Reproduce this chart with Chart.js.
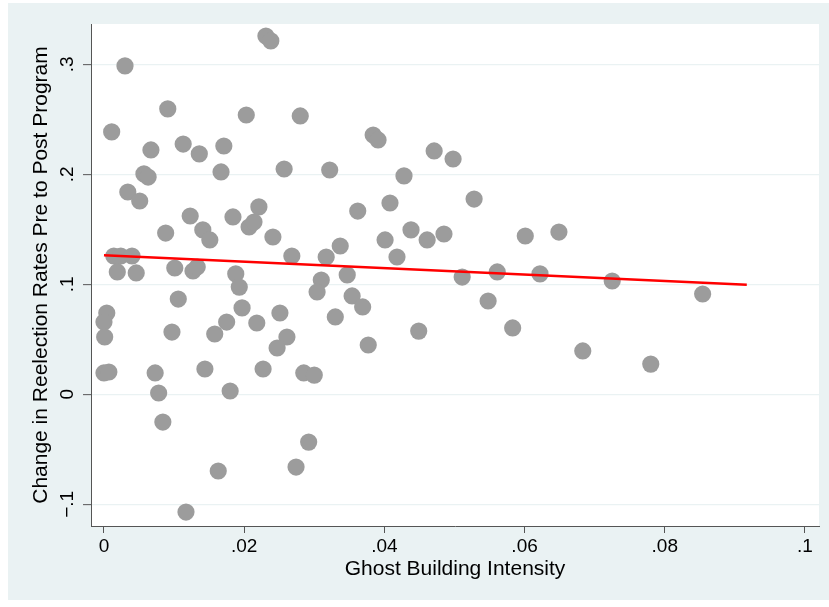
<!DOCTYPE html>
<html><head><meta charset="utf-8">
<script src="https://cdn.jsdelivr.net/npm/chart.js@4.4.1/dist/chart.umd.min.js"></script>
<style>
html,body{margin:0;padding:0;background:#fff;}
#bg{position:absolute;left:8px;top:3px;width:821px;height:597px;background:#EAF2F3;}
#wrap{position:absolute;left:0;top:0;width:829px;height:607px;}
</style></head><body>
<div id="bg"></div>
<div id="wrap"><canvas id="c" width="829" height="607"></canvas></div>
<script>
const intensity = [
 0.0231,0.0238,0.0030,0.0011,0.0091,0.0203,0.0280,0.0067,0.0113,0.0136,
 0.0171,0.0057,0.0063,0.0167,0.0257,0.0322,0.0034,0.0051,0.0123,0.0184,
 0.0221,0.0207,0.0214,0.0088,0.0141,0.0151,0.0241,0.0268,0.0317,0.0014,
 0.0024,0.0040,0.0019,0.0046,0.0101,0.0127,0.0133,0.0188,0.0193,0.0310,
 0.0304,0.0004,0.0000,0.0001,0.0106,0.0197,0.0251,0.0330,0.0175,0.0218,
 0.0097,0.0158,0.0261,0.0247,0.0000,0.0007,0.0073,0.0144,0.0227,0.0285,
 0.0300,0.0078,0.0180,0.0084,0.0292,0.0163,0.0274,0.0117,0.0384,0.0391,
 0.0471,0.0498,0.0428,0.0408,0.0528,0.0362,0.0401,0.0438,0.0461,0.0485,
 0.0601,0.0649,0.0337,0.0418,0.0347,0.0511,0.0561,0.0622,0.0354,0.0369,
 0.0548,0.0583,0.0449,0.0377,0.0725,0.0854,0.0683,0.0780
];
const reelectionChange = [
 0.3257,0.3212,0.2985,0.2385,0.2594,0.2539,0.2530,0.2221,0.2275,0.2185,
 0.2257,0.2003,0.1975,0.2021,0.2048,0.2039,0.1839,0.1757,0.1621,0.1612,
 0.1703,0.1521,0.1566,0.1466,0.1494,0.1403,0.1430,0.1257,0.1248,0.1257,
 0.1257,0.1257,0.1112,0.1103,0.1148,0.1121,0.1157,0.1094,0.0975,0.1039,
 0.0930,0.0739,0.0657,0.0521,0.0866,0.0785,0.0739,0.0703,0.0657,0.0648,
 0.0566,0.0548,0.0521,0.0421,0.0194,0.0203,0.0194,0.0230,0.0230,0.0194,
 0.0175,0.0012,0.0030,-0.0252,-0.0434,-0.0697,-0.0661,-0.1070,0.2357,0.2312,
 0.2212,0.2139,0.1985,0.1739,0.1775,0.1666,0.1403,0.1494,0.1403,0.1457,
 0.1439,0.1475,0.1348,0.1248,0.1085,0.1066,0.1112,0.1094,0.0894,0.0794,
 0.0848,0.0603,0.0575,0.0448,0.1030,0.0912,0.0394,0.0275
];
const fitX = [0, 0.0917];
const fitY = [0.1264, 0.0996];
const xTickValues = [0, 0.02, 0.04, 0.06, 0.08, 0.1];
const xTickLabels = ["0", ".02", ".04", ".06", ".08", ".1"];
const yTickValues = [-0.1, 0, 0.1, 0.2, 0.3];
const yTickLabels = ["\u2212.1", "0", ".1", ".2", ".3"];

const FONT = "'Liberation Sans', Arial, Helvetica, sans-serif";

const scatterPts = intensity.map((x, i) => ({x: x, y: reelectionChange[i]}));
const fitPts = fitX.map((x, i) => ({x: x, y: fitY[i]}));

const areaBg = {
  id: 'areaBg',
  beforeDraw(chart) {
    const a = chart.chartArea, ctx = chart.ctx;
    ctx.save();
    ctx.fillStyle = '#ffffff';
    ctx.fillRect(a.left, a.top, a.right - a.left, a.bottom - a.top);
    ctx.restore();
  }
};

const yLabels = {
  id: 'yLabels',
  afterDraw(chart) {
    const s = chart.scales.y, ctx = chart.ctx;
    const x = s.right - 8 - 10;
    ctx.save();
    ctx.fillStyle = '#000';
    ctx.font = '19px ' + FONT;
    ctx.textAlign = 'center';
    ctx.textBaseline = 'alphabetic';
    yTickValues.forEach((v, i) => {
      const p = s.getPixelForValue(v);
      ctx.save();
      ctx.translate(x, p);
      ctx.rotate(-Math.PI / 2);
      ctx.fillText(yTickLabels[i], 0, 0);
      ctx.restore();
    });
    ctx.restore();
  }
};

new Chart(document.getElementById('c'), {
  data: {
    datasets: [
      {type: 'line', data: fitPts, borderColor: '#ff0000', borderWidth: 2.6,
       pointRadius: 0, fill: false, tension: 0},
      {type: 'scatter', data: scatterPts, backgroundColor: '#9c9c9c',
       borderWidth: 0, pointRadius: 8.6, pointHoverRadius: 8.6}
    ]
  },
  options: {
    responsive: false,
    animation: false,
    devicePixelRatio: 1,
    layout: {padding: {left: 0, top: 24, right: 10, bottom: 0}},
    plugins: {legend: {display: false}, tooltip: {enabled: false}},
    scales: {
      x: {
        type: 'linear', min: -0.00185, max: 0.1020,
        afterBuildTicks: s => { s.ticks = xTickValues.map(v => ({value: v})); },
        afterFit: s => { s.height = 81; },
        ticks: {
          color: '#000', font: {family: FONT, size: 19}, padding: 2,
          maxRotation: 0, autoSkip: false,
          callback: v => { const i = xTickValues.findIndex(t => Math.abs(t - v) < 1e-9); return i >= 0 ? xTickLabels[i] : ''; }
        },
        grid: {drawOnChartArea: false, drawTicks: true, tickLength: 7, tickColor: '#555', tickWidth: 1},
        border: {display: true, color: '#555', width: 1},
        title: {display: true, text: 'Ghost Building Intensity', color: '#000',
                font: {family: FONT, size: 21}, padding: {top: 0, bottom: 25}}
      },
      y: {
        type: 'linear', min: -0.1197, max: 0.3366,
        afterBuildTicks: s => { s.ticks = yTickValues.map(v => ({value: v})); },
        afterFit: s => { s.width = 91; },
        ticks: {display: false},
        grid: {color: '#EAF2F3', lineWidth: 1.3, drawTicks: true, tickLength: 8, tickColor: '#555', tickWidth: 1},
        border: {display: true, color: '#555', width: 1},
        title: {display: true, text: 'Change in Reelection Rates Pre to Post Program', color: '#000',
                font: {family: FONT, size: 21}, padding: {top: 29, bottom: 0}}
      }
    }
  },
  plugins: [areaBg, yLabels]
});
</script>
</body></html>
